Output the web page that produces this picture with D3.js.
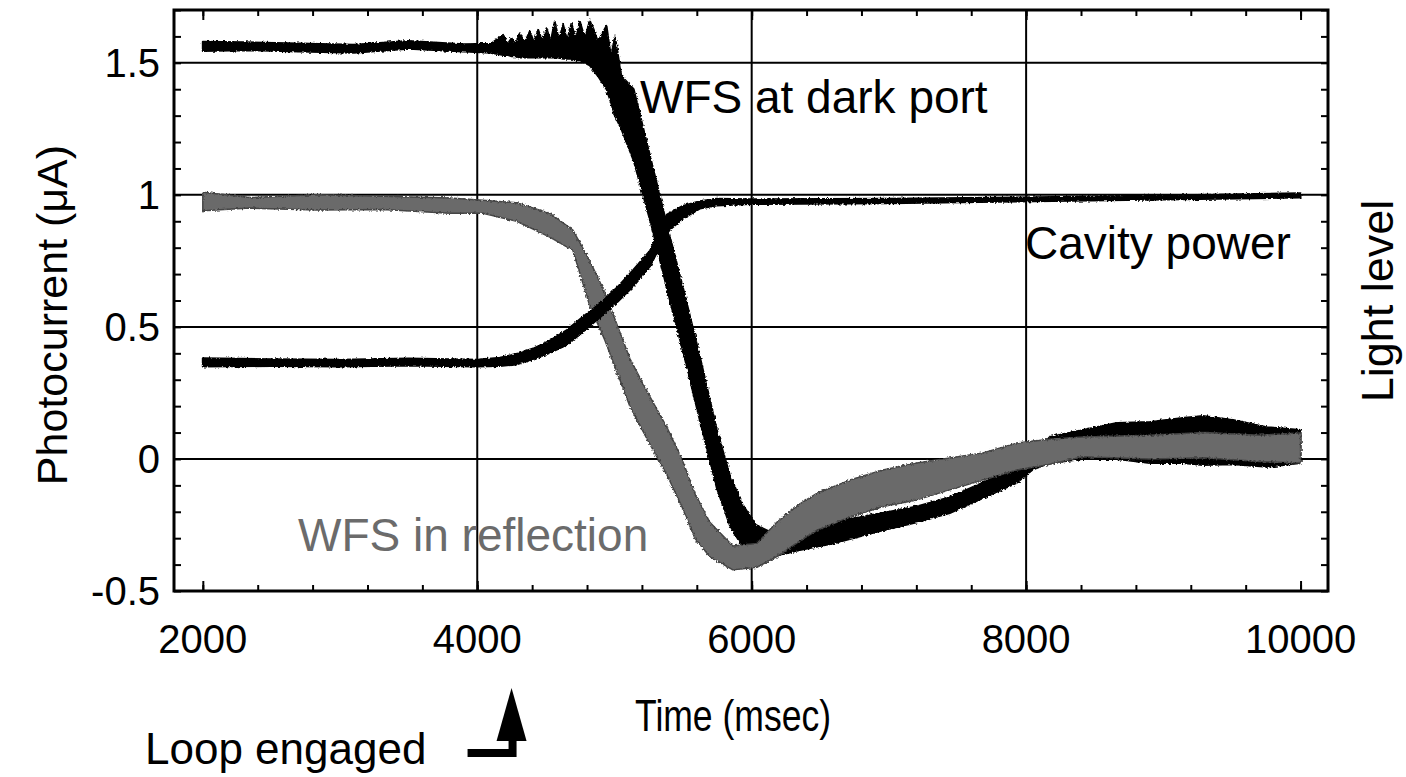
<!DOCTYPE html>
<html>
<head>
<meta charset="utf-8">
<script src="https://cdn.jsdelivr.net/npm/d3@7"></script>
<style>
  body { margin: 0; background: #fff; }
  text { font-family: "Liberation Sans", Arial, Helvetica, sans-serif; }
</style>
</head>
<body>
<svg id="chart"></svg>
<script>
// traces as [time (msec), lower edge, upper edge] of each noisy band
var darkPort = [
  [2000, 1.545, 1.58], [2300, 1.548, 1.578], [2700, 1.543, 1.573], [3100, 1.538, 1.568],
  [3500, 1.553, 1.583], [3900, 1.543, 1.57], [4100, 1.538, 1.572],
  [4189, 1.53, 1.606], [4220, 1.53, 1.57], [4250, 1.525, 1.593], [4280, 1.525, 1.57],
  [4310, 1.52, 1.612], [4345, 1.52, 1.575], [4383, 1.52, 1.619], [4415, 1.52, 1.575],
  [4444, 1.52, 1.625], [4475, 1.52, 1.58], [4505, 1.52, 1.631], [4535, 1.52, 1.58],
  [4565, 1.52, 1.656], [4595, 1.52, 1.585], [4626, 1.515, 1.644], [4655, 1.515, 1.585],
  [4687, 1.515, 1.65], [4718, 1.51, 1.585], [4748, 1.51, 1.656], [4785, 1.50, 1.59],
  [4820, 1.49, 1.66], [4880, 1.45, 1.58], [4942, 1.40, 1.64], [4975, 1.35, 1.52],
  [5003, 1.30, 1.60], [5050, 1.25, 1.45], [5140, 1.13, 1.40], [5272, 0.88, 1.12],
  [5390, 0.63, 0.87], [5513, 0.38, 0.62], [5630, 0.13, 0.37], [5746, -0.11, 0.11],
  [5840, -0.25, -0.06], [5930, -0.33, -0.17], [6030, -0.37, -0.25], [6150, -0.37, -0.28],
  [6351, -0.345, -0.27], [6591, -0.32, -0.24], [6956, -0.27, -0.205], [7204, -0.24, -0.18],
  [7444, -0.205, -0.145], [7685, -0.148, -0.09], [7932, -0.09, -0.03], [8049, -0.04, 0.01],
  [8173, -0.015, 0.083], [8414, 0.0, 0.11], [8661, 0.0, 0.136], [8902, -0.015, 0.14],
  [9142, -0.015, 0.155], [9288, -0.023, 0.163], [9507, -0.02, 0.148], [9755, -0.03, 0.12],
  [10000, -0.015, 0.11]
]
var reflection = [
  [2000, 0.94, 1.01], [2343, 0.95, 0.99], [2831, 0.943, 1.0], [3312, 0.945, 0.995],
  [3800, 0.93, 0.988], [4041, 0.93, 0.98], [4288, 0.90, 0.97], [4529, 0.84, 0.93],
  [4697, 0.79, 0.867], [4820, 0.58, 0.75], [4930, 0.45, 0.63], [5025, 0.32, 0.50],
  [5112, 0.20, 0.38], [5243, 0.07, 0.25], [5382, -0.06, 0.12], [5491, -0.18, 0.0],
  [5586, -0.30, -0.13], [5695, -0.37, -0.24], [5863, -0.42, -0.33], [6038, -0.41, -0.32],
  [6183, -0.37, -0.24], [6351, -0.31, -0.17], [6475, -0.27, -0.13], [6716, -0.22, -0.08],
  [6956, -0.18, -0.042], [7204, -0.155, -0.015], [7444, -0.117, 0.004], [7685, -0.08, 0.023],
  [7932, -0.042, 0.06], [8173, -0.02, 0.075], [8414, 0.008, 0.083], [8900, 0.0, 0.09],
  [9300, 0.005, 0.10], [9700, -0.01, 0.09], [10000, -0.015, 0.098]
]
var cavity = [
  [2000, 0.35, 0.381], [2500, 0.352, 0.378], [3000, 0.35, 0.376], [3500, 0.354, 0.38],
  [4000, 0.35, 0.376], [4165, 0.352, 0.383], [4288, 0.358, 0.398], [4408, 0.377, 0.418],
  [4529, 0.402, 0.448], [4653, 0.432, 0.488], [4770, 0.482, 0.538], [4893, 0.536, 0.588],
  [5017, 0.592, 0.648], [5134, 0.652, 0.714], [5258, 0.729, 0.788], [5382, 0.858, 0.925],
  [5498, 0.91, 0.958], [5622, 0.948, 0.976], [5744, 0.96, 0.985], [5987, 0.965, 0.983],
  [7000, 0.968, 0.985], [7932, 0.975, 0.99], [9000, 0.982, 0.998], [10000, 0.99, 1.006]
]

var xLabels = [2000, 4000, 6000, 8000, 10000]
var yLabels = [-0.5, 0, 0.5, 1, 1.5]
var xGrid = [4000, 6000, 8000]
var yGrid = [0, 0.5, 1, 1.5]
var loopEngagedAt = 4250

var width = 1406
var height = 777
var margin = {top: 10, right: 78, bottom: 186, left: 174}
var grey = '#6b6b6b'

var svg = d3.select('#chart')
    .attr('width', width)
    .attr('height', height)

// slight roughening of the trace edges, like the scanned noisy traces
var rough = svg.append('defs').append('filter').attr('id', 'rough')
    .attr('x', '-5%').attr('y', '-5%').attr('width', '110%').attr('height', '110%')
rough.append('feTurbulence').attr('type', 'fractalNoise')
    .attr('baseFrequency', 0.45).attr('numOctaves', 2).attr('seed', 3).attr('result', 'n')
rough.append('feDisplacementMap').attr('in', 'SourceGraphic').attr('in2', 'n')
    .attr('scale', 3.5).attr('xChannelSelector', 'R').attr('yChannelSelector', 'G')

var x = d3.scaleLinear()
    .domain([1790, 10200])
    .range([margin.left, width - margin.right])
var y = d3.scaleLinear()
    .domain([-0.5, 1.7])
    .range([height - margin.bottom, margin.top])

var x0 = x.range()[0], x1 = x.range()[1]
var y0 = y.range()[1], y1 = y.range()[0]

// grid lines
svg.append('g').selectAll('line').data(xGrid).enter().append('line')
    .attr('x1', d => x(d)).attr('x2', d => x(d))
    .attr('y1', y0).attr('y2', y1)
    .attr('stroke', '#000').attr('stroke-width', 2)
svg.append('g').selectAll('line').data(yGrid).enter().append('line')
    .attr('x1', x0).attr('x2', x1)
    .attr('y1', d => y(d)).attr('y2', d => y(d))
    .attr('stroke', '#000').attr('stroke-width', 2)

// inward ticks on all four sides
var xTicks = d3.range(2000, 10001, 400)
var yTicks = d3.range(-5, 18).map(d => d / 10)
function strip(g) { g.select('.domain').remove(); g.selectAll('line').attr('stroke-width', 2) }
svg.append('g').attr('transform', `translate(0,${y1})`)
    .call(d3.axisBottom(x).tickValues(xTicks).tickSize(-6).tickFormat('')).call(strip)
svg.append('g').attr('transform', `translate(0,${y0})`)
    .call(d3.axisTop(x).tickValues(xTicks).tickSize(-6).tickFormat('')).call(strip)
svg.append('g').attr('transform', `translate(${x0},0)`)
    .call(d3.axisLeft(y).tickValues(yTicks).tickSize(-7).tickFormat('')).call(strip)
svg.append('g').attr('transform', `translate(${x1},0)`)
    .call(d3.axisRight(y).tickValues(yTicks).tickSize(-7).tickFormat('')).call(strip)
// longer ticks at the labelled times
svg.append('g').attr('transform', `translate(0,${y1})`)
    .call(d3.axisBottom(x).tickValues(xLabels).tickSize(-10).tickFormat('')).call(strip)
svg.append('g').attr('transform', `translate(0,${y0})`)
    .call(d3.axisTop(x).tickValues(xLabels).tickSize(-10).tickFormat('')).call(strip)

// traces
var band = d3.area()
    .x(d => x(d[0]))
    .y0(d => y(d[1]))
    .y1(d => y(d[2]))

var traces = svg.append('g').attr('filter', 'url(#rough)')
traces.append('path').attr('d', band(darkPort))
    .attr('fill', '#000').attr('stroke', '#000').attr('stroke-width', 2).attr('stroke-linejoin', 'round')
traces.append('path').attr('d', band(reflection))
    .attr('fill', grey).attr('stroke', '#444').attr('stroke-width', 1.5).attr('stroke-linejoin', 'round')
traces.append('path').attr('d', band(cavity))
    .attr('fill', '#000').attr('stroke', '#000').attr('stroke-width', 2).attr('stroke-linejoin', 'round')

// frame
svg.append('rect')
    .attr('x', x0).attr('y', y0)
    .attr('width', x1 - x0).attr('height', y1 - y0)
    .attr('fill', 'none').attr('stroke', '#000').attr('stroke-width', 3)

// tick labels
svg.append('g').selectAll('text').data(xLabels).enter().append('text')
    .attr('x', d => x(d)).attr('y', y1 + 62)
    .attr('text-anchor', 'middle')
    .style('font-size', '40px')
    .text(d => d)
svg.append('g').selectAll('text').data(yLabels).enter().append('text')
    .attr('x', x0 - 14).attr('y', d => y(d) + 14)
    .attr('text-anchor', 'end')
    .style('font-size', '40px')
    .text(d => d)

// axis titles
svg.append('text')
    .attr('transform', `translate(67,315) rotate(-90)`)
    .attr('text-anchor', 'middle')
    .style('font-size', '43px')
    .text('Photocurrent (\u03BCA)')
svg.append('text')
    .attr('transform', `translate(1393,301) rotate(-90)`)
    .attr('text-anchor', 'middle')
    .style('font-size', '45px')
    .text('Light level')
svg.append('text')
    .attr('x', 635).attr('y', 731)
    .attr('textLength', 196).attr('lengthAdjust', 'spacingAndGlyphs')
    .style('font-size', '44px')
    .text('Time (msec)')

// trace labels
svg.append('text').attr('x', 640).attr('y', 113)
    .style('font-size', '46px').text('WFS at dark port')
svg.append('text').attr('x', 1025).attr('y', 259)
    .style('font-size', '46px').text('Cavity power')
svg.append('text').attr('x', 298).attr('y', 551)
    .style('font-size', '46px').style('fill', grey).text('WFS in reflection')

// loop engaged marker
var ax = x(loopEngagedAt)
svg.append('text').attr('x', 145).attr('y', 764)
    .style('font-size', '44px').text('Loop engaged')
svg.append('path')
    .attr('d', `M${ax - 44},753 H${ax + 1} V740`)
    .attr('fill', 'none').attr('stroke', '#000').attr('stroke-width', 8)
svg.append('path')
    .attr('d', `M${ax - 15},741 L${ax},688 L${ax + 15},741 Z`)
    .attr('fill', '#000')
</script>
</body>
</html>
